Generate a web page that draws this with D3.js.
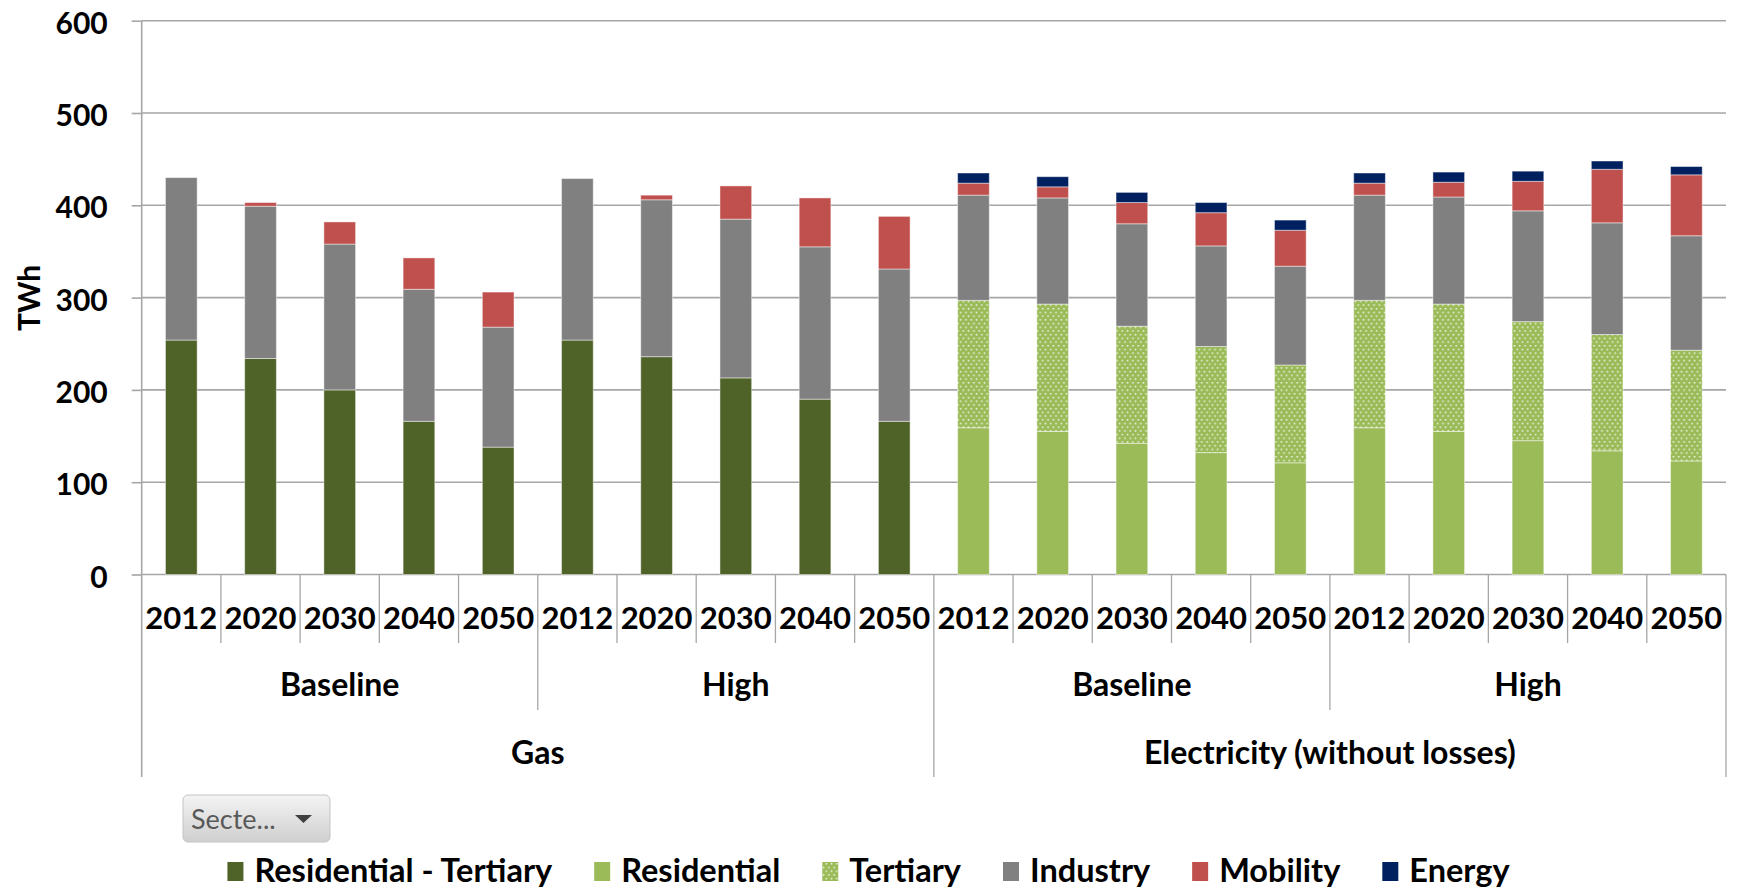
<!DOCTYPE html>
<html>
<head>
<meta charset="utf-8">
<script src="https://cdn.jsdelivr.net/npm/d3@7"></script>
<style>
  html, body { margin: 0; padding: 0; background: #ffffff; }
  svg { display: block; }
  text { font-family: Lato, "Open Sans", "DejaVu Sans", sans-serif; }
</style>
</head>
<body>
<svg id="chart" width="1737" height="890"></svg>
<script>
// ---- Category levels -------------------------------------------------------
const fuels = ["Gas", "Electricity (without losses)"];
const scenarios = ["Baseline", "High"];
const years = ["2012", "2020", "2030", "2040", "2050"];

// ---- Series (TWh), 20 columns: Gas/Baseline, Gas/High, Elec/Baseline, Elec/High
const seriesNames = ["Residential - Tertiary", "Residential", "Tertiary", "Industry", "Mobility", "Energy"];
const residentialTertiary = [254, 234, 200, 166, 138,  254, 236, 213, 190, 166,  0, 0, 0, 0, 0,  0, 0, 0, 0, 0];
const residential         = [0, 0, 0, 0, 0,  0, 0, 0, 0, 0,  159, 155, 142, 132, 121,  159, 155, 145, 134, 123];
const tertiary            = [0, 0, 0, 0, 0,  0, 0, 0, 0, 0,  138, 138, 127, 115, 106,  138, 138, 129, 126, 120];
const industry            = [176, 165, 158, 143, 130,  175, 170, 172, 165, 165,  114, 115, 111, 109, 107,  114, 116, 120, 121, 124];
const mobility            = [0, 4, 24, 34, 38,  0, 5, 36, 53, 57,  13, 12, 23, 36, 39,  13, 16, 32, 58, 66];
const energy              = [0, 0, 0, 0, 0,  0, 0, 0, 0, 0,  11, 11, 11, 11, 11,  11, 11, 11, 9, 9];

const yTicks = [0, 100, 200, 300, 400, 500, 600];
const yTitle = "TWh";
const filterLabel = "Secte...";

const seriesColors = ["#4F6228", "#9BBB59", "url(#tertiaryDots)", "#808080", "#C0504D", "#002060"];

// ---- Build table rows for d3.stack -----------------------------------------
const columns = [];
fuels.forEach(f => scenarios.forEach(s => years.forEach(yr => columns.push({ fuel: f, scenario: s, year: yr }))));
const seriesValues = [residentialTertiary, residential, tertiary, industry, mobility, energy];
const rows = columns.map((c, i) => {
  const r = { key: c.fuel + "|" + c.scenario + "|" + c.year, ...c };
  seriesNames.forEach((n, k) => { r[n] = seriesValues[k][i]; });
  return r;
});

// ---- Layout ------------------------------------------------------------------
const W = 1737, H = 890;
const plot = { left: 141.7, right: 1726, top: 20.7, bottom: 574.5 };
const svg = d3.select("#chart");

// Dotted fill for the Tertiary series
const defs = svg.append("defs");
const pat = defs.append("pattern")
  .attr("id", "tertiaryDots").attr("patternUnits", "userSpaceOnUse")
  .attr("width", 5.3).attr("height", 7.4);
pat.append("rect").attr("width", 5.3).attr("height", 7.4).attr("fill", "#9BBB59");
[[0.6, 0.9], [3.25, 4.6]].forEach(([px, py]) => {
  pat.append("rect").attr("x", px).attr("y", py).attr("width", 1.5).attr("height", 1.5)
    .attr("fill", "#ffffff").attr("opacity", 0.85);
});

const x = d3.scaleBand()
  .domain(rows.map(r => r.key))
  .range([plot.left, plot.right])
  .paddingInner(0.6)
  .paddingOuter(0.3);
const step = x.step();

const y = d3.scaleLinear().domain([0, 600]).range([plot.bottom, plot.top]);

// Gridlines
svg.append("g").attr("class", "grid")
  .selectAll("line").data(yTicks).join("line")
  .attr("x1", plot.left).attr("x2", plot.right)
  .attr("y1", d => y(d)).attr("y2", d => y(d))
  .attr("stroke", "#a6a6a6").attr("stroke-width", 1.6);

// Y axis
const yAxis = svg.append("g")
  .attr("transform", `translate(${plot.left},0)`)
  .call(d3.axisLeft(y).tickValues(yTicks).tickSize(10).tickPadding(24));
yAxis.select(".domain").remove();
yAxis.selectAll(".tick line").attr("stroke", "#a6a6a6").attr("stroke-width", 1.6);
yAxis.selectAll(".tick text")
  .attr("font-family", "Lato, sans-serif").attr("font-weight", 700)
  .attr("font-size", 30).attr("fill", "#000").attr("dy", "0.42em");

svg.append("text")
  .attr("transform", "translate(28,298) rotate(-90)")
  .attr("text-anchor", "middle").attr("dominant-baseline", "central")
  .attr("font-weight", 700).attr("font-size", 30).attr("fill", "#000")
  .text(yTitle);

// Stacked bars
const stack = d3.stack().keys(seriesNames);
const layers = stack(rows);
svg.append("g").attr("class", "bars")
  .selectAll("g").data(layers).join("g")
  .attr("fill", (d, i) => seriesColors[i])
  .selectAll("rect").data(d => d.filter(p => p[1] - p[0] > 0)).join("rect")
  .attr("x", d => x(d.data.key))
  .attr("width", x.bandwidth())
  .attr("y", d => y(d[1]))
  .attr("height", d => y(d[0]) - y(d[1]))
  .attr("stroke", "rgba(255,255,255,0.45)").attr("stroke-width", 1);

// ---- Multi-level category axis ---------------------------------------------
const axisG = svg.append("g").attr("class", "cat-axis");
const levelBottom = { year: 643, scenario: 710, fuel: 777 };
// Left axis line (runs from top of plot down through all category levels)
axisG.append("line")
  .attr("x1", plot.left).attr("x2", plot.left)
  .attr("y1", plot.top).attr("y2", levelBottom.fuel)
  .attr("stroke", "#a6a6a6").attr("stroke-width", 1.6);
// Boundaries between categories
const boundaries = d3.range(1, rows.length + 1);
axisG.selectAll("line.sep").data(boundaries).join("line")
  .attr("class", "sep")
  .attr("x1", i => plot.left + step * i).attr("x2", i => plot.left + step * i)
  .attr("y1", plot.bottom)
  .attr("y2", i => (i % 10 === 0) ? levelBottom.fuel : (i % 5 === 0 ? levelBottom.scenario : levelBottom.year))
  .attr("stroke", "#a6a6a6").attr("stroke-width", 1.3);

const labelStyle = (sel, size) => sel
  .attr("text-anchor", "middle").attr("font-weight", 700)
  .attr("font-size", size).attr("fill", "#000");

axisG.selectAll("text.year").data(rows).join("text")
  .attr("class", "year")
  .attr("x", d => x(d.key) + x.bandwidth() / 2)
  .attr("y", 629)
  .call(labelStyle, 31)
  .text(d => d.year);

const scenarioGroups = [];
fuels.forEach((f, fi) => scenarios.forEach((s, si) => scenarioGroups.push({ label: s, start: (fi * scenarios.length + si) * years.length })));
axisG.selectAll("text.scenario").data(scenarioGroups).join("text")
  .attr("class", "scenario")
  .attr("x", d => plot.left + step * (d.start + years.length / 2))
  .attr("y", 696)
  .call(labelStyle, 32)
  .text(d => d.label);

const perFuel = scenarios.length * years.length;
axisG.selectAll("text.fuel").data(fuels).join("text")
  .attr("class", "fuel")
  .attr("x", (d, i) => plot.left + step * (i * perFuel + perFuel / 2))
  .attr("y", 764)
  .call(labelStyle, 32)
  .text(d => d);

// ---- Field button ----------------------------------------------------------
const grad = defs.append("linearGradient").attr("id", "btnGrad")
  .attr("x1", 0).attr("y1", 0).attr("x2", 0).attr("y2", 1);
grad.append("stop").attr("offset", "0%").attr("stop-color", "#f4f4f4");
grad.append("stop").attr("offset", "100%").attr("stop-color", "#cfcfcf");
const btn = svg.append("g").attr("transform", "translate(183,795)");
btn.append("rect").attr("width", 147).attr("height", 47).attr("rx", 5)
  .attr("fill", "url(#btnGrad)").attr("stroke", "#c4c4c4").attr("stroke-width", 1);
btn.append("text").attr("x", 8).attr("y", 34)
  .attr("font-size", 27).attr("fill", "#595959").text(filterLabel);
btn.append("path").attr("d", "M112,20 L129,20 L120.5,28 Z").attr("fill", "#404040");

// ---- Legend ----------------------------------------------------------------
const legend = svg.append("g").attr("class", "legend");
const items = legend.selectAll("g").data(seriesNames).join("g");
items.append("rect")
  .attr("y", 862).attr("width", 16).attr("height", 19)
  .attr("fill", (d, i) => seriesColors[i]);
items.append("text")
  .attr("x", 27).attr("y", 882)
  .attr("font-weight", 700).attr("font-size", 32.5).attr("fill", "#000")
  .text(d => d);
const gap = 42;
const widths = [];
items.each(function () { widths.push(27 + d3.select(this).select("text").node().getComputedTextLength()); });
const total = d3.sum(widths) + gap * (widths.length - 1);
let cursor = W / 2 - total / 2;
items.attr("transform", (d, i) => { const t = `translate(${cursor},0)`; cursor += widths[i] + gap; return t; });
</script>
</body>
</html>
